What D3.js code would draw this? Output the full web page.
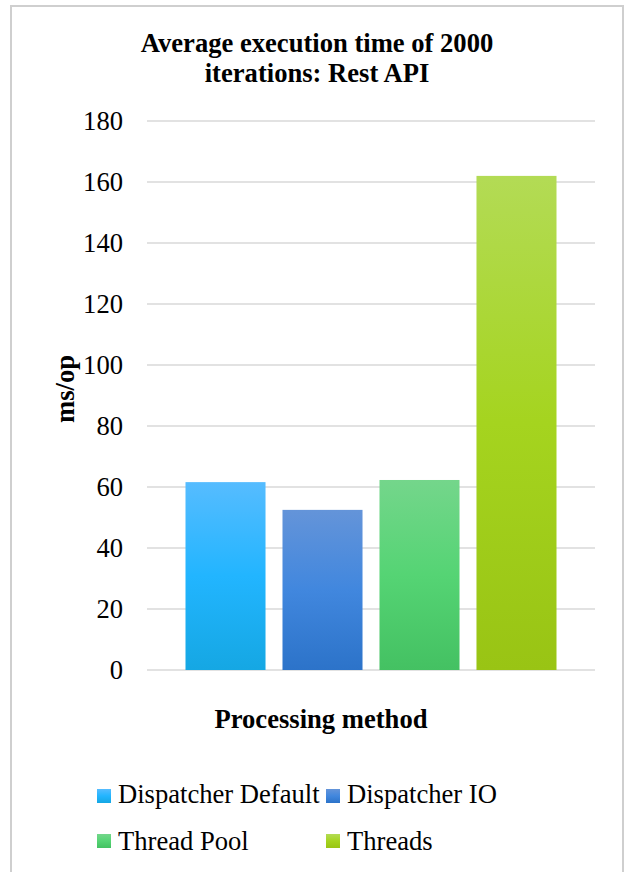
<!DOCTYPE html>
<html>
<head>
<meta charset="utf-8">
<script src="https://cdn.jsdelivr.net/npm/d3@7"></script>
<style>
  html, body { margin: 0; padding: 0; background: #ffffff; }
  svg { display: block; }
  text { font-family: "Liberation Serif", "Times New Roman", serif; fill: #000; }
</style>
</head>
<body>
<script>
// Average execution time (ms/op) per processing method, Rest API, 2000 iterations
const seriesNames = ["Dispatcher Default", "Dispatcher IO", "Thread Pool", "Threads"];
const seriesValues = [61.6, 52.5, 62.3, 162.0];
const yTicks = [0, 20, 40, 60, 80, 100, 120, 140, 160, 180];
const titleLines = ["Average execution time of 2000", "iterations: Rest API"];
const xTitle = "Processing method";
const yTitle = "ms/op";

// gradient stops (top, middle, bottom) for each series
const seriesGradients = [
  ["#56BCFF", "#22B5FF", "#15A7E3"],
  ["#6494D9", "#4187DE", "#2C73C9"],
  ["#74D68B", "#55D474", "#44C162"],
  ["#B3DB55", "#A5D41F", "#99C414"]
];

const W = 625, H = 872;
const FONT = 26.6;
const plot = { left: 147, right: 595, top: 121, bottom: 670 };

const svg = d3.select("body").append("svg")
  .attr("width", W).attr("height", H);

// chart frame
svg.append("rect")
  .attr("x", 11).attr("y", 6)
  .attr("width", 612).attr("height", 880)
  .attr("fill", "#fff")
  .attr("stroke", "#cfcfcf").attr("stroke-width", 2);

const defs = svg.append("defs");
seriesGradients.forEach((stops, i) => {
  const g = defs.append("linearGradient")
    .attr("id", "grad" + i)
    .attr("x1", 0).attr("y1", 0).attr("x2", 0).attr("y2", 1);
  g.append("stop").attr("offset", "0%").attr("stop-color", stops[0]);
  g.append("stop").attr("offset", "50%").attr("stop-color", stops[1]);
  g.append("stop").attr("offset", "100%").attr("stop-color", stops[2]);
});

const y = d3.scaleLinear().domain([0, 180]).range([plot.bottom, plot.top]);

// single category: series bars sit side by side inside the plot area
const groupInset = 38.5;
const x = d3.scaleBand()
  .domain(seriesNames)
  .range([plot.left + groupInset, plot.right - groupInset])
  .paddingInner(0.175)
  .paddingOuter(0);

// gridlines
svg.append("g")
  .selectAll("line")
  .data(yTicks)
  .join("line")
  .attr("x1", plot.left).attr("x2", plot.right)
  .attr("y1", d => y(d)).attr("y2", d => y(d))
  .attr("stroke", "#d9d9d9").attr("stroke-width", 1.5);

// y axis tick labels
const yAxis = d3.axisLeft(y).tickValues(yTicks).tickSize(0).tickPadding(0);
const yg = svg.append("g")
  .attr("transform", `translate(123,0)`)
  .call(yAxis);
yg.select(".domain").remove();
yg.selectAll("text")
  .attr("font-family", "Liberation Serif, Times New Roman, serif")
  .attr("font-size", FONT)
  .attr("fill", "#000")
  .attr("x", 0)
  .attr("dy", "0.33em");

// bars
svg.append("g")
  .selectAll("rect")
  .data(seriesNames.map((n, i) => ({ name: n, value: seriesValues[i], i })))
  .join("rect")
  .attr("x", d => x(d.name))
  .attr("width", x.bandwidth())
  .attr("y", d => y(d.value))
  .attr("height", d => y(0) - y(d.value))
  .attr("fill", d => `url(#grad${d.i})`);

// chart title
svg.append("text")
  .attr("x", 317).attr("y", 52)
  .attr("text-anchor", "middle")
  .attr("font-weight", "bold")
  .attr("font-size", FONT)
  .selectAll("tspan")
  .data(titleLines)
  .join("tspan")
  .attr("x", 317)
  .attr("dy", (d, i) => i === 0 ? 0 : 30)
  .text(d => d);

// axis titles
svg.append("text")
  .attr("x", 321).attr("y", 728)
  .attr("text-anchor", "middle")
  .attr("font-weight", "bold")
  .attr("font-size", FONT)
  .text(xTitle);

svg.append("text")
  .attr("transform", "translate(74,389) rotate(-90)")
  .attr("text-anchor", "middle")
  .attr("font-weight", "bold")
  .attr("font-size", FONT)
  .text(yTitle);

// legend: two columns, two rows
const legendCols = [97, 326];
const legendRows = [789, 834];
const lg = svg.append("g")
  .selectAll("g")
  .data(seriesNames)
  .join("g")
  .attr("transform", (d, i) => `translate(${legendCols[i % 2]},${legendRows[Math.floor(i / 2)]})`);
lg.append("rect")
  .attr("width", 14).attr("height", 14)
  .attr("fill", (d, i) => `url(#grad${i})`);
lg.append("text")
  .attr("x", 21).attr("y", 14 + (0))
  .attr("dy", (d, i) => i < 2 ? 0 : 2)
  .attr("font-size", FONT)
  .text(d => d);
</script>
</body>
</html>
